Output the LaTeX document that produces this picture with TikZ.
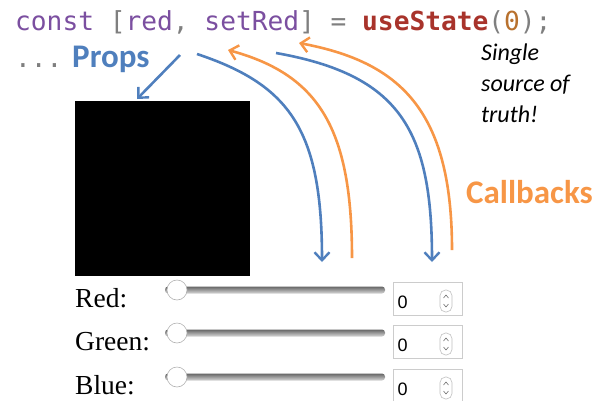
\documentclass[tikz,border=0pt]{standalone}
\usepackage{fontspec}
\setmainfont{Liberation Serif}
\newfontfamily\codefont{DejaVu Sans Mono}
\newfontfamily\calfont{Carlito}
\newfontfamily\uifont{Liberation Sans}
\usetikzlibrary{arrows.meta}

\definecolor{kwpurple}{HTML}{7B4FA0}
\definecolor{codegray}{HTML}{7F7F7F}
\definecolor{fnred}{HTML}{A8332B}
\definecolor{numbrown}{HTML}{B8712E}
\definecolor{propblue}{HTML}{4F7FBD}
\definecolor{cborange}{HTML}{F79646}

\tikzset{
  propflow/.style={draw=propblue, line width=2.6pt,
    -{Straight Barb[length=8pt,width=15pt,line width=2.4pt]}},
  cbflow/.style={draw=cborange, line width=2.6pt,
    -{Straight Barb[length=8pt,width=15pt,line width=2.4pt]}},
  rowname/.style={anchor=base west, inner sep=0pt, font=\fontsize{27.5}{30}\selectfont},
  numbox/.style={draw=black!20, line width=0.8pt, minimum width=69pt, minimum height=33pt, inner sep=0pt},
  numtext/.style={anchor=base west, inner sep=0pt, font=\uifont\fontsize{18}{20}\selectfont},
  spinner/.style={draw=black!25, line width=0.6pt, rounded corners=5.5pt, minimum width=12pt, minimum height=22pt, inner sep=0pt},
}

\begin{document}
\begin{tikzpicture}[x=1pt, y=-1pt]
  \useasboundingbox (0,0) rectangle (603,400);

  % code line
  \node[anchor=base west, inner sep=0pt, font=\codefont\fontsize{26.2}{30}\selectfont] (state) at (15,30)
    {\textcolor{kwpurple}{const} \textcolor{codegray}{[}\textcolor{kwpurple}{red}\textcolor{codegray}{,} \textcolor{kwpurple}{setRed}\textcolor{codegray}{]} \textcolor{codegray}{=} \textcolor{fnred}{\bfseries useState}\textcolor{codegray}{(}\textcolor{numbrown}{0}\textcolor{codegray}{);}};
  \node[anchor=base west, inner sep=0pt, font=\codefont\fontsize{26.2}{30}\selectfont, text=codegray] (dots) at (15,67) {...};
  \node[anchor=base west, inner sep=0pt, font=\calfont\bfseries\fontsize{33}{36}\selectfont, text=propblue] (props) at (72,67) {Props};

  \node[anchor=north west, inner sep=0pt, align=left, font=\calfont\itshape\fontsize{24}{31}\selectfont] (truth) at (481,44)
    {Single\\source of\\truth!};
  \node[anchor=base west, inner sep=0pt, font=\calfont\bfseries\fontsize{33}{36}\selectfont, text=cborange] (callbacks) at (466,203) {Callbacks};

  % colour swatch
  \node[fill=black, minimum width=175pt, minimum height=175pt, inner sep=0pt, anchor=north west] (swatch) at (75,101) {};

  % sliders
  \foreach \name/\y in {Red/290, Green/333, Blue/377} {
    \node[rowname] (lbl-\name) at (75,\y+17) {\name:};
    \shade[top color=black!60, bottom color=black!15, rounded corners=3pt] (165,\y-3.5) rectangle (385,\y+3.5);
    \node[circle, draw=black!30, fill=white, line width=0.6pt, minimum size=20pt, inner sep=0pt] (knob-\name) at (177,\y) {};
    \node[numbox] (box-\name) at (427.5,\y+8.5) {};
    \node[numtext] (val-\name) at (397.5,\y+18.5) {0};
    \node[spinner] (spin-\name) at (446,\y+11) {};
    \draw[black!55, line width=0.6pt] ([xshift=-2.5pt,yshift=-3pt]spin-\name.center) -- ([yshift=-6pt]spin-\name.center) -- ([xshift=2.5pt,yshift=-3pt]spin-\name.center);
    \draw[black!55, line width=0.6pt] ([xshift=-2.5pt,yshift=3pt]spin-\name.center) -- ([yshift=6pt]spin-\name.center) -- ([xshift=2.5pt,yshift=3pt]spin-\name.center);
  }

  % data flow
  \coordinate (props-out) at (180,55);
  \coordinate (red-out) at (197,54);
  \coordinate (set-out) at (276,53);
  \coordinate (red-in) at (322,262);
  \coordinate (set-in) at (432,262);
  \coordinate (cb-red) at (352,258);
  \coordinate (cb-set) at (452,250);
  \coordinate (setter-a) at (228,50);
  \coordinate (setter-b) at (299,43);

  \draw[propflow] (props-out) -- (137,99);
  \draw[propflow] (red-out) .. controls (290,85) and (322,130) .. (red-in);
  \draw[propflow] (set-out) .. controls (400,75) and (432,130) .. (set-in);
  \draw[cbflow] (cb-red) .. controls (352,130) and (320,75) .. (setter-a);
  \draw[cbflow] (cb-set) .. controls (452,110) and (400,62) .. (setter-b);
\end{tikzpicture}
\end{document}
